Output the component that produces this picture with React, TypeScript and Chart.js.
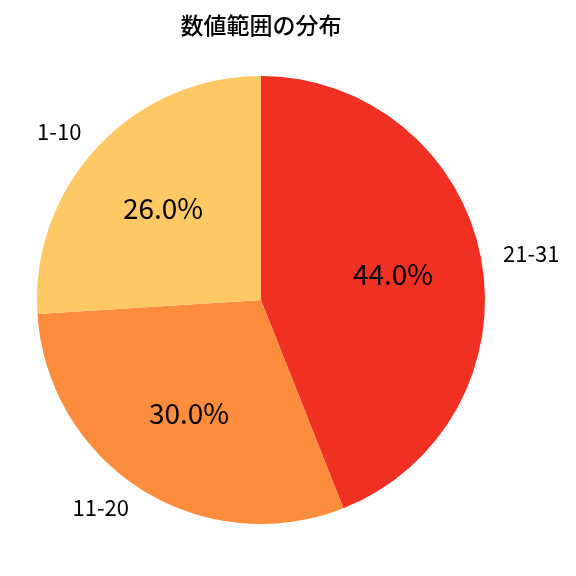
import { useEffect, useRef } from "react"
import { Chart, registerables, type ChartConfiguration, type Plugin } from "chart.js"

Chart.register(...registerables)

const title = "数値範囲の分布"
const categories = ["21-31", "11-20", "1-10"]
const shares = [44.0, 30.0, 26.0]
const sliceColors = ["#ef3023", "#fd8d3c", "#fec864"]

const FONT = "'Noto Sans CJK JP', 'Noto Sans', sans-serif"

// matplotlib-style labels: category outside at 1.1r, percent inside at 0.6r
const pieLabels: Plugin<"pie"> = {
  id: "pieLabels",
  afterDraw(chart) {
    const { ctx } = chart
    const meta = chart.getDatasetMeta(0)
    ctx.save()
    ctx.fillStyle = "#000"
    ctx.textBaseline = "middle"

    ctx.font = `500 23px ${FONT}`
    ctx.textAlign = "center"
    ctx.fillText(title, 261, 25)

    meta.data.forEach((el: any, i) => {
      const { x, y, startAngle, endAngle, outerRadius } = el.getProps(
        ["x", "y", "startAngle", "endAngle", "outerRadius"],
        true
      )
      const mid = (startAngle + endAngle) / 2
      const cos = Math.cos(mid)
      const sin = Math.sin(mid)

      ctx.font = `28px ${FONT}`
      ctx.textAlign = "center"
      ctx.fillText(
        shares[i].toFixed(1) + "%",
        x + cos * outerRadius * 0.6,
        y + sin * outerRadius * 0.6
      )

      ctx.font = `22px ${FONT}`
      ctx.textAlign = cos >= 0 ? "left" : "right"
      ctx.fillText(categories[i], x + cos * outerRadius * 1.1, y + sin * outerRadius * 1.1)
    })
    ctx.restore()
  },
}

export default function App() {
  const chartRef = useRef<HTMLCanvasElement | null>(null)
  const chartInstance = useRef<Chart | null>(null)

  useEffect(() => {
    document.body.style.margin = "0"
    if (!chartRef.current) return
    const ctx = chartRef.current.getContext("2d")
    if (!ctx) return

    const config: ChartConfiguration<"pie"> = {
      type: "pie",
      data: {
        labels: categories,
        datasets: [
          {
            data: shares,
            backgroundColor: sliceColors,
            borderWidth: 0,
          },
        ],
      },
      options: {
        animation: false,
        responsive: false,
        layout: {
          padding: { left: 37, right: 91, top: 76, bottom: 52 },
        },
        plugins: {
          legend: { display: false },
          title: { display: false },
          tooltip: { enabled: false },
        },
      },
      plugins: [pieLabels],
    }

    chartInstance.current = new Chart(ctx, config)

    return () => {
      if (chartInstance.current) {
        chartInstance.current.destroy()
        chartInstance.current = null
      }
    }
  }, [])

  return (
    <div style={{ width: 576, height: 576, background: "#fff" }}>
      <canvas ref={chartRef} width={576} height={576} style={{ width: 576, height: 576 }} />
    </div>
  )
}
